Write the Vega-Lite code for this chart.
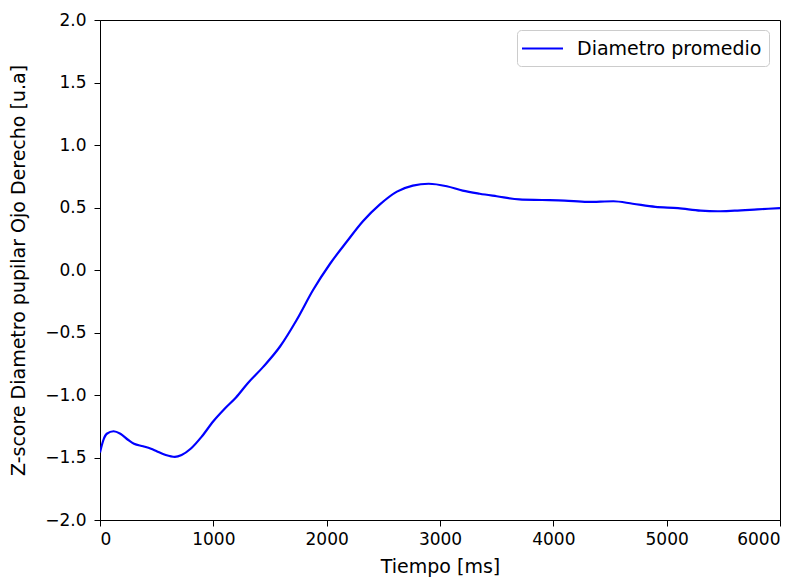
{
  "$schema": "https://vega.github.io/schema/vega-lite/v6.json",
  "width": 680,
  "height": 500,
  "autosize": {"type": "none"},
  "padding": {"left": 100, "top": 20, "right": 26, "bottom": 57},
  "background": "white",
  "config": {
    "font": "DejaVu Sans",
    "view": {"stroke": "#000", "strokeWidth": 1},
    "axis": {
      "grid": false,
      "domainColor": "#000",
      "domainWidth": 1,
      "tickColor": "#000",
      "tickWidth": 1,
      "tickSize": 6,
      "labelColor": "#000",
      "labelFont": "DejaVu Sans",
      "labelFontSize": 17,
      "titleColor": "#000",
      "titleFont": "DejaVu Sans",
      "titleFontSize": 19,
      "titleFontWeight": "normal"
    }
  },
  "data": {
    "values": [
      {"t": 0, "z": -1.46, "serie": "Diametro promedio"},
      {"t": 30, "z": -1.36, "serie": "Diametro promedio"},
      {"t": 60, "z": -1.31, "serie": "Diametro promedio"},
      {"t": 120, "z": -1.29, "serie": "Diametro promedio"},
      {"t": 180, "z": -1.31, "serie": "Diametro promedio"},
      {"t": 250, "z": -1.36, "serie": "Diametro promedio"},
      {"t": 300, "z": -1.39, "serie": "Diametro promedio"},
      {"t": 380, "z": -1.41, "serie": "Diametro promedio"},
      {"t": 450, "z": -1.43, "serie": "Diametro promedio"},
      {"t": 500, "z": -1.45, "serie": "Diametro promedio"},
      {"t": 580, "z": -1.48, "serie": "Diametro promedio"},
      {"t": 660, "z": -1.495, "serie": "Diametro promedio"},
      {"t": 720, "z": -1.48, "serie": "Diametro promedio"},
      {"t": 800, "z": -1.43, "serie": "Diametro promedio"},
      {"t": 900, "z": -1.33, "serie": "Diametro promedio"},
      {"t": 1000, "z": -1.21, "serie": "Diametro promedio"},
      {"t": 1100, "z": -1.11, "serie": "Diametro promedio"},
      {"t": 1200, "z": -1.02, "serie": "Diametro promedio"},
      {"t": 1300, "z": -0.91, "serie": "Diametro promedio"},
      {"t": 1440, "z": -0.775, "serie": "Diametro promedio"},
      {"t": 1590, "z": -0.61, "serie": "Diametro promedio"},
      {"t": 1735, "z": -0.4, "serie": "Diametro promedio"},
      {"t": 1880, "z": -0.16, "serie": "Diametro promedio"},
      {"t": 2030, "z": 0.05, "serie": "Diametro promedio"},
      {"t": 2180, "z": 0.23, "serie": "Diametro promedio"},
      {"t": 2320, "z": 0.39, "serie": "Diametro promedio"},
      {"t": 2470, "z": 0.525, "serie": "Diametro promedio"},
      {"t": 2620, "z": 0.627, "serie": "Diametro promedio"},
      {"t": 2760, "z": 0.675, "serie": "Diametro promedio"},
      {"t": 2900, "z": 0.69, "serie": "Diametro promedio"},
      {"t": 3060, "z": 0.67, "serie": "Diametro promedio"},
      {"t": 3200, "z": 0.635, "serie": "Diametro promedio"},
      {"t": 3350, "z": 0.61, "serie": "Diametro promedio"},
      {"t": 3500, "z": 0.59, "serie": "Diametro promedio"},
      {"t": 3700, "z": 0.565, "serie": "Diametro promedio"},
      {"t": 3900, "z": 0.56, "serie": "Diametro promedio"},
      {"t": 4100, "z": 0.555, "serie": "Diametro promedio"},
      {"t": 4300, "z": 0.545, "serie": "Diametro promedio"},
      {"t": 4530, "z": 0.55, "serie": "Diametro promedio"},
      {"t": 4700, "z": 0.53, "serie": "Diametro promedio"},
      {"t": 4900, "z": 0.505, "serie": "Diametro promedio"},
      {"t": 5100, "z": 0.495, "serie": "Diametro promedio"},
      {"t": 5300, "z": 0.475, "serie": "Diametro promedio"},
      {"t": 5450, "z": 0.47, "serie": "Diametro promedio"},
      {"t": 5600, "z": 0.475, "serie": "Diametro promedio"},
      {"t": 5800, "z": 0.485, "serie": "Diametro promedio"},
      {"t": 6000, "z": 0.495, "serie": "Diametro promedio"}
    ]
  },
  "mark": {"type": "line", "interpolate": "monotone", "strokeWidth": 2.2, "clip": true},
  "encoding": {
    "x": {
      "field": "t",
      "type": "quantitative",
      "scale": {"domain": [0, 6000], "nice": false, "zero": false},
      "axis": {
        "title": "Tiempo [ms]",
        "values": [0, 1000, 2000, 3000, 4000, 5000, 6000],
        "format": "d",
        "labelPadding": 5,
        "titleY": 52,
        "titleBaseline": "alphabetic"
      }
    },
    "y": {
      "field": "z",
      "type": "quantitative",
      "scale": {"domain": [-2, 2], "nice": false, "zero": false},
      "axis": {
        "title": "Z-score Diametro pupilar Ojo Derecho [u.a]",
        "values": [-2, -1.5, -1, -0.5, 0, 0.5, 1, 1.5, 2],
        "format": ".1f",
        "labelPadding": 8,
        "titleX": -82,
        "titleY": 250,
        "titleBaseline": "middle",
        "titleAlign": "center",
        "titleAngle": -90
      }
    },
    "color": {
      "field": "serie",
      "type": "nominal",
      "scale": {"range": ["#0000ff"]},
      "legend": {
        "title": null,
        "orient": "none",
        "legendX": 417,
        "legendY": 10,
        "symbolType": "M-2,0H2",
        "symbolSize": 420,
        "symbolOffset": 7,
        "symbolStrokeWidth": 2.2,
        "symbolStrokeColor": "#0000ff",
        "symbolFillColor": "transparent",
        "labelFontSize": 19,
        "labelColor": "#000",
        "labelFont": "DejaVu Sans",
        "labelOffset": 23,
        "labelLimit": 400,
        "padding": 7,
        "strokeColor": "#cccccc",
        "fillColor": "white",
        "cornerRadius": 4
      }
    }
  }
}
